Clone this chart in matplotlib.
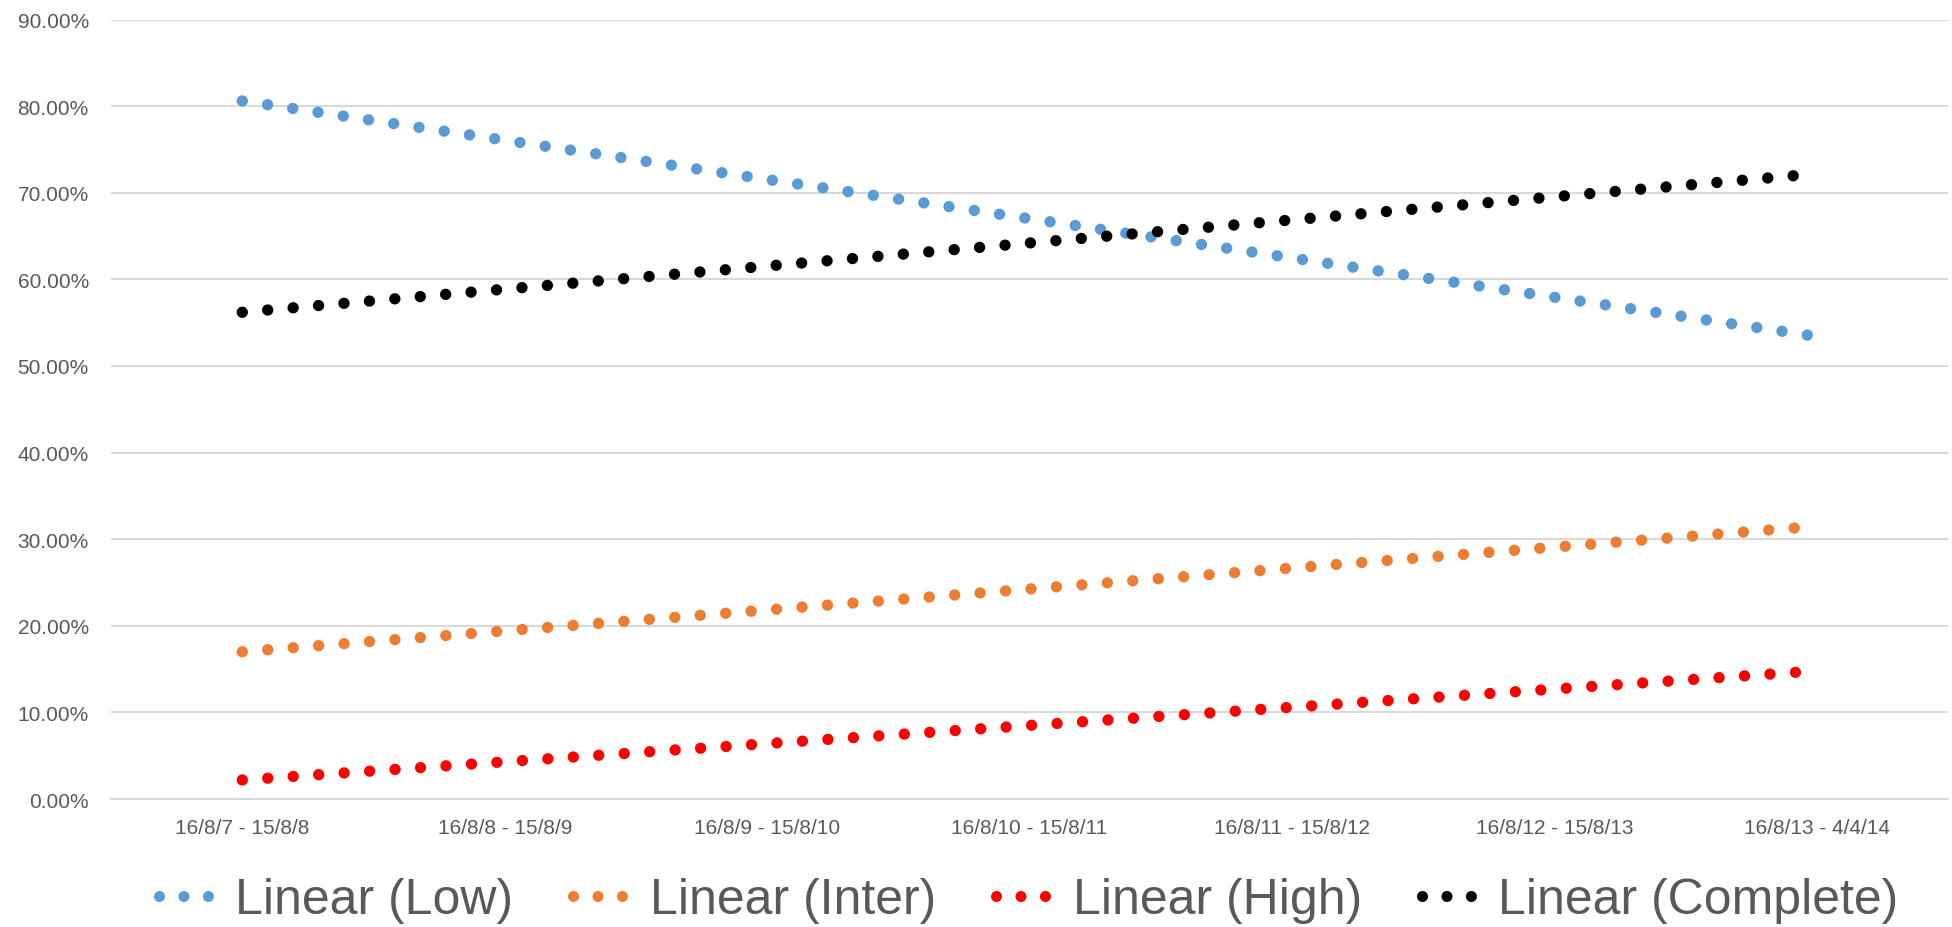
import matplotlib
matplotlib.use("Agg")
import matplotlib.pyplot as plt
from matplotlib.lines import Line2D
from matplotlib.ticker import FuncFormatter

# periods on the category axis
periods = ["16/8/7 - 15/8/8", "16/8/8 - 15/8/9", "16/8/9 - 15/8/10",
           "16/8/10 - 15/8/11", "16/8/11 - 15/8/12", "16/8/12 - 15/8/13",
           "16/8/13 - 4/4/14"]

# linear trend values (fraction) at the first and last period
low_trend = [0.806, 0.534]
inter_trend = [0.170, 0.315]
high_trend = [0.022, 0.148]
complete_trend = [0.562, 0.722]

names = ["Linear (Low)", "Linear (Inter)", "Linear (High)", "Linear (Complete)"]
colors = ["#5B9BD5", "#ED7D31", "#FF0000", "#000000"]

plt.rcParams["font.family"] = ["Liberation Sans", "DejaVu Sans"]

fig = plt.figure(figsize=(19.52, 9.28), dpi=100)
ax = fig.add_axes([0.0569, 0.1379, 0.9411, 0.84])

dot_lw = 8.2          # dot diameter in points
dot_style = (0, (0.001, 2.24))

ends = [0, len(periods) - 1]
for vals, name, col in zip([low_trend, inter_trend, high_trend, complete_trend], names, colors):
    ax.plot(ends, vals, color=col, lw=dot_lw, linestyle=dot_style,
            dash_capstyle="round", label=name, zorder=3)

ax.set_xlim(-0.5, len(periods) - 0.5)
ax.set_ylim(0, 0.9)
ax.set_yticks([i / 10 for i in range(10)])
ax.yaxis.set_major_formatter(FuncFormatter(lambda v, _: f"{v * 100:.2f}%"))
ax.set_xticks(range(len(periods)))
ax.set_xticklabels(periods)

ax.grid(axis="y", color="#D9D9D9", lw=1.5, zorder=0)
for side in ["top", "right", "left"]:
    ax.spines[side].set_visible(False)
ax.spines["bottom"].set_color("#D9D9D9")
ax.spines["bottom"].set_linewidth(1.5)
ax.tick_params(axis="both", length=0, labelcolor="#595959", labelsize=15)
ax.tick_params(axis="y", pad=16)
ax.tick_params(axis="x", pad=14)

handles = [Line2D([0], [0], color=c, lw=8.0, linestyle=(0, (0.001, 2.2)),
                  dash_capstyle="round") for c in colors]
leg = fig.legend(handles, names, loc="center", ncol=4, frameon=False,
                 bbox_to_anchor=(0.527, 0.029), fontsize=36,
                 handlelength=1.08, handletextpad=0.45, columnspacing=1.2,
                 labelcolor="#595959")

fig.savefig("out.png", dpi=100, facecolor="white")
